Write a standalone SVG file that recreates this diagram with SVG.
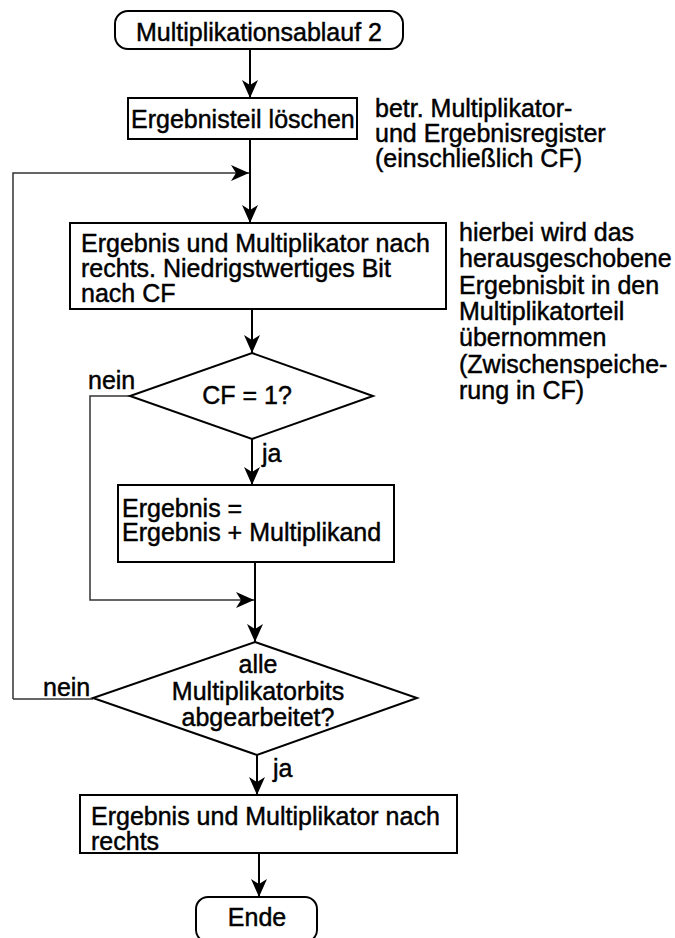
<svg xmlns="http://www.w3.org/2000/svg" width="675" height="938" viewBox="0 0 675 938">
  <style>
    text { font-family: "Liberation Sans", Arial, sans-serif; font-size: 25px; fill: #000; stroke: #000; stroke-width: 0.45; }
    .c { text-anchor: middle; }
    .shape { fill: #fff; stroke: #000; stroke-width: 2; }
    .flow { fill: none; stroke: #000; stroke-width: 2; }
    .back { fill: none; stroke: #333; stroke-width: 1.5; }
  </style>
  <defs>
    <marker id="arrow" viewBox="-19 -9 20 18" refX="0" refY="0" markerWidth="20" markerHeight="18" markerUnits="userSpaceOnUse" orient="auto">
      <path d="M0,0 L-18,-8 L-13,0 L-18,8 Z" fill="#000"/>
    </marker>
  </defs>

  <g id="connectors">
    <line class="flow" x1="250" y1="49" x2="250" y2="98" marker-end="url(#arrow)"/>
    <line class="flow" x1="250" y1="139" x2="250" y2="223" marker-end="url(#arrow)"/>
    <polyline class="back" points="13,699 13,173 249,173" marker-end="url(#arrow)"/>
    <line class="flow" x1="252" y1="309" x2="252" y2="353" marker-end="url(#arrow)"/>
    <line class="flow" x1="252" y1="439" x2="252" y2="485" marker-end="url(#arrow)"/>
    <line class="flow" x1="255" y1="562" x2="255" y2="642" marker-end="url(#arrow)"/>
    <polyline class="back" points="130,396 90,396 90,600 254,600" marker-end="url(#arrow)"/>
    <line class="back" x1="13" y1="699" x2="93" y2="699"/>
    <line class="flow" x1="257" y1="755" x2="257" y2="795" marker-end="url(#arrow)"/>
    <line class="flow" x1="259" y1="853" x2="259" y2="897" marker-end="url(#arrow)"/>
    <text x="88" y="389">nein</text>
    <text x="262" y="462">ja</text>
    <text x="43" y="696">nein</text>
    <text x="273" y="777">ja</text>
  </g>

  <g id="start">
    <rect class="shape" x="115" y="11" width="288" height="38" rx="13" ry="13"/>
    <text class="c" x="259" y="41">Multiplikationsablauf 2</text>
  </g>

  <g id="clear">
    <rect class="shape" x="128" y="98" width="229" height="41"/>
    <text x="131" y="128">Ergebnisteil löschen</text>
  </g>

  <g id="note-clear">
    <text x="375" y="117">betr. Multiplikator-</text>
    <text x="375" y="142">und Ergebnisregister</text>
    <text x="375" y="167">(einschließlich CF)</text>
  </g>

  <g id="shift">
    <rect class="shape" x="70" y="223" width="376" height="86"/>
    <text x="81" y="252">Ergebnis und Multiplikator nach</text>
    <text x="81" y="277">rechts. Niedrigstwertiges Bit</text>
    <text x="81" y="302">nach CF</text>
  </g>

  <g id="note-shift">
    <text x="459" y="241">hierbei wird das</text>
    <text x="459" y="267">herausgeschobene</text>
    <text x="459" y="294">Ergebnisbit in den</text>
    <text x="459" y="320">Multiplikatorteil</text>
    <text x="459" y="346">übernommen</text>
    <text x="459" y="373">(Zwischenspeiche-</text>
    <text x="459" y="399">rung in CF)</text>
  </g>

  <g id="test-cf">
    <polygon class="shape" points="252,353 373,396 252,439 130,396"/>
    <text class="c" x="247" y="404">CF = 1?</text>
  </g>

  <g id="add">
    <rect class="shape" x="118" y="485" width="276" height="77"/>
    <text x="122" y="517">Ergebnis =</text>
    <text x="122" y="541">Ergebnis + Multiplikand</text>
  </g>

  <g id="test-done">
    <polygon class="shape" points="255,642 417,698 257,755 93,698"/>
    <text class="c" x="258" y="673">alle</text>
    <text class="c" x="258" y="700">Multiplikatorbits</text>
    <text class="c" x="258" y="726">abgearbeitet?</text>
  </g>

  <g id="final-shift">
    <rect class="shape" x="80" y="795" width="377" height="58"/>
    <text x="91" y="825">Ergebnis und Multiplikator nach</text>
    <text x="91" y="850">rechts</text>
  </g>

  <g id="end">
    <rect class="shape" x="196" y="897" width="121" height="45" rx="12" ry="12"/>
    <text class="c" x="257" y="926">Ende</text>
  </g>
</svg>
